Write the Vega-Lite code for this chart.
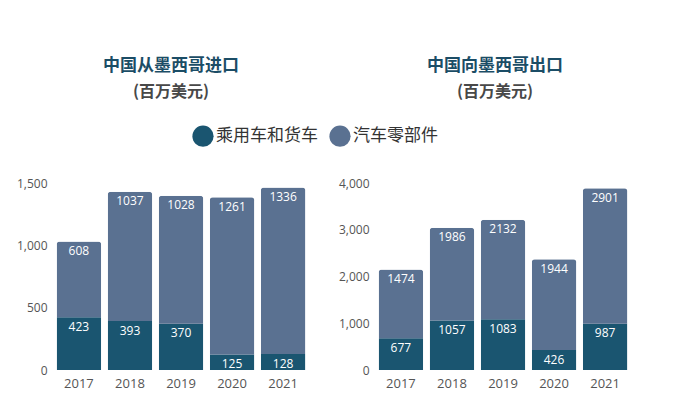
{
  "$schema": "https://vega.github.io/schema/vega-lite/v6.json",
  "background": "white",
  "padding": {"left": 16, "top": 57, "right": 5, "bottom": 5},
  "datasets": {
    "imp": [
      {"year": "2017", "cat": "乘用车和货车", "v": 423, "k": 1},
      {"year": "2017", "cat": "汽车零部件", "v": 608, "k": 2},
      {"year": "2018", "cat": "乘用车和货车", "v": 393, "k": 1},
      {"year": "2018", "cat": "汽车零部件", "v": 1037, "k": 2},
      {"year": "2019", "cat": "乘用车和货车", "v": 370, "k": 1},
      {"year": "2019", "cat": "汽车零部件", "v": 1028, "k": 2},
      {"year": "2020", "cat": "乘用车和货车", "v": 125, "k": 1},
      {"year": "2020", "cat": "汽车零部件", "v": 1261, "k": 2},
      {"year": "2021", "cat": "乘用车和货车", "v": 128, "k": 1},
      {"year": "2021", "cat": "汽车零部件", "v": 1336, "k": 2}
    ],
    "exp": [
      {"year": "2017", "cat": "乘用车和货车", "v": 677, "k": 1},
      {"year": "2017", "cat": "汽车零部件", "v": 1474, "k": 2},
      {"year": "2018", "cat": "乘用车和货车", "v": 1057, "k": 1},
      {"year": "2018", "cat": "汽车零部件", "v": 1986, "k": 2},
      {"year": "2019", "cat": "乘用车和货车", "v": 1083, "k": 1},
      {"year": "2019", "cat": "汽车零部件", "v": 2132, "k": 2},
      {"year": "2020", "cat": "乘用车和货车", "v": 426, "k": 1},
      {"year": "2020", "cat": "汽车零部件", "v": 1944, "k": 2},
      {"year": "2021", "cat": "乘用车和货车", "v": 987, "k": 1},
      {"year": "2021", "cat": "汽车零部件", "v": 2901, "k": 2}
    ]
  },
  "config": {
    "view": {"stroke": null},
    "font": "Open Sans",
    "title": {
      "font": "Noto Sans CJK SC",
      "fontSize": 17,
      "fontWeight": "bold",
      "color": "#1b4d66",
      "subtitleFont": "Noto Sans CJK SC",
      "subtitleFontSize": 16,
      "subtitleFontWeight": "bold",
      "subtitleColor": "#484848",
      "subtitlePadding": 9,
      "anchor": "middle"
    },
    "axis": {
      "domain": false,
      "ticks": false,
      "grid": false,
      "labelColor": "#555555",
      "labelFont": "Open Sans",
      "title": null
    },
    "legend": {
      "title": null, "orient": "none", "direction": "horizontal", "legendX": 141, "legendY": -58,
      "symbolType": "circle", "symbolSize": 450, "symbolOpacity": 1, "symbolStrokeWidth": 0,
      "labelFont": "Noto Sans CJK SC", "labelFontSize": 17, "labelColor": "#333333",
      "labelOffset": 2, "columnPadding": 11, "padding": 0, "labelLimit": 300
    }
  },
  "spacing": 27,
  "resolve": {"scale": {"y": "independent"}},
  "hconcat": [
    {
      "width": 260,
      "height": 187,
      "title": {"text": "中国从墨西哥进口", "subtitle": "(百万美元)", "dx": -10, "offset": 76},
      "data": {"name": "imp"},
      "encoding": {
        "x": {"field": "year", "type": "ordinal", "scale": {"paddingInner": 0.127, "paddingOuter": 0.11},
              "axis": {"labelAngle": 0, "labelFontSize": 13, "labelPadding": 7}}
      },
      "layer": [
        {
          "mark": {"type": "bar", "cornerRadiusEnd": 3},
          "encoding": {
            "y": {"field": "v", "type": "quantitative", "stack": "zero",
                  "scale": {"domain": [0, 1500], "nice": false},
                  "axis": {"values": [0, 500, 1000, 1500], "format": ",d", "labelFontSize": 12, "labelPadding": 4}},
            "color": {"field": "cat", "type": "nominal",
                      "scale": {"domain": ["乘用车和货车", "汽车零部件"], "range": ["#1a5570", "#5a7191"]}},
            "order": {"field": "k"}
          }
        },
        {
          "mark": {"type": "text", "baseline": "middle", "dy": 9.5, "color": "white", "fontSize": 12},
          "encoding": {
            "y": {"field": "v", "type": "quantitative", "stack": "zero"},
            "detail": {"field": "cat"},
            "order": {"field": "k"},
            "text": {"field": "v", "type": "quantitative", "format": "d"}
          }
        }
      ]
    },
    {
      "width": 260,
      "height": 187,
      "title": {"text": "中国向墨西哥出口", "subtitle": "(百万美元)", "dx": -8, "offset": 76},
      "data": {"name": "exp"},
      "encoding": {
        "x": {"field": "year", "type": "ordinal", "scale": {"paddingInner": 0.127, "paddingOuter": 0.11},
              "axis": {"labelAngle": 0, "labelFontSize": 13, "labelPadding": 7}}
      },
      "layer": [
        {
          "mark": {"type": "bar", "cornerRadiusEnd": 3},
          "encoding": {
            "y": {"field": "v", "type": "quantitative", "stack": "zero",
                  "scale": {"domain": [0, 4000], "nice": false},
                  "axis": {"values": [0, 1000, 2000, 3000, 4000], "format": ",d", "labelFontSize": 12, "labelPadding": 4}},
            "color": {"field": "cat", "type": "nominal",
                      "scale": {"domain": ["乘用车和货车", "汽车零部件"], "range": ["#1a5570", "#5a7191"]}},
            "order": {"field": "k"}
          }
        },
        {
          "mark": {"type": "text", "baseline": "middle", "dy": 9.5, "color": "white", "fontSize": 12},
          "encoding": {
            "y": {"field": "v", "type": "quantitative", "stack": "zero"},
            "detail": {"field": "cat"},
            "order": {"field": "k"},
            "text": {"field": "v", "type": "quantitative", "format": "d"}
          }
        }
      ]
    }
  ]
}
